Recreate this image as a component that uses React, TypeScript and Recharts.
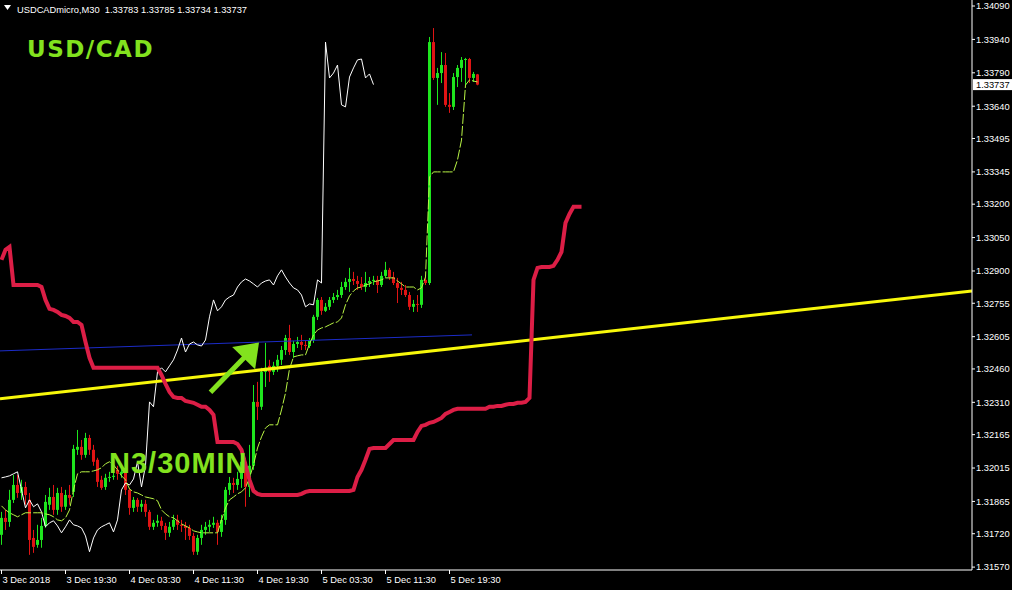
import React from "react";
import { ComposedChart, Bar, Line, XAxis, YAxis, ReferenceLine } from "recharts";

// prices are kept in points (1 point = 0.00001), M30 bars
const FONT = "'Liberation Sans', Arial, sans-serif";
const GREEN = "#1ee61e";
const RED = "#e01414";
const LIME = "#82e21e";

const barOpen = [
  131715, 131791, 131773, 131872, 131939, 131903, 131930, 131872, 131701, 131670,
  131692, 131755, 131850, 131885, 131827, 131903, 131841, 131894, 131908, 132097,
  132110, 132074, 132150, 132097, 132052, 131962, 131930, 131971, 131975, 132007,
  131989, 131998, 131917, 131836, 131872, 131841, 131854, 131818, 131751, 131769,
  131778, 131755, 131724, 131751, 131782, 131760, 131755, 131746, 131710, 131639,
  131701, 131737, 131751, 131760, 131769, 131728, 131782, 131917, 131948, 131939,
  131966, 132043, 131930, 132025, 132312, 132290, 132447, 132474, 132447, 132474,
  132501, 132545, 132599, 132536, 132572, 132581, 132568, 132563, 132590, 132694,
  132770, 132721, 132739, 132770, 132783, 132792, 132828, 132851, 132864, 132855,
  132842, 132828, 132846, 132855, 132860, 132837, 132878, 132905, 132873, 132846,
  132824, 132815, 132792, 132739, 132752, 132748, 132860, 132846, 133928, 133767,
  133789, 133825, 133646, 133637, 133771, 133812, 133848, 133852, 133767, 133783,
];
const barHigh = [
  131818, 131827, 131917, 131984, 131984, 131962, 131953, 131903, 131737, 131760,
  131791, 131894, 131926, 131939, 131926, 131930, 131917, 131939, 132119, 132186,
  132141, 132173, 132164, 132119, 132061, 131980, 131989, 131998, 132007, 132025,
  132016, 132007, 131926, 131885, 131881, 131872, 131872, 131827, 131782, 131805,
  131796, 131769, 131773, 131805, 131805, 131782, 131773, 131760, 131724, 131715,
  131760, 131773, 131782, 131796, 131782, 131805, 131930, 131975, 131971, 131998,
  132074, 132061, 132119, 132388, 132402, 132465, 132577, 132501, 132492, 132523,
  132563, 132613, 132658, 132586, 132604, 132613, 132586, 132599, 132703, 132779,
  132783, 132756, 132783, 132801, 132815, 132851, 132869, 132914, 132896, 132878,
  132873, 132896, 132873, 132878, 132878, 132896, 132941, 132914, 132896, 132869,
  132851, 132837, 132806, 132770, 132792, 132878, 132882, 133951, 133991, 133812,
  133883, 133879, 133699, 133789, 133825, 133861, 133857, 133857, 133794, 133785,
];
const barLow = [
  131670, 131737, 131751, 131858, 131881, 131872, 131850, 131625, 131634, 131657,
  131657, 131746, 131827, 131805, 131805, 131818, 131827, 131850, 131885, 132074,
  132052, 132061, 132074, 132025, 131930, 131917, 131917, 131953, 131962, 131962,
  131971, 131894, 131805, 131818, 131818, 131818, 131796, 131737, 131737, 131751,
  131737, 131692, 131706, 131737, 131737, 131728, 131692, 131692, 131625, 131625,
  131670, 131715, 131728, 131746, 131670, 131706, 131760, 131894, 131903, 131917,
  131926, 131841, 131885, 132007, 132231, 132276, 132379, 132402, 132433, 132447,
  132478, 132523, 132523, 132510, 132554, 132545, 132545, 132554, 132577, 132680,
  132703, 132716, 132725, 132756, 132770, 132779, 132815, 132806, 132837, 132815,
  132815, 132806, 132828, 132837, 132801, 132828, 132869, 132860, 132837, 132756,
  132792, 132783, 132725, 132716, 132716, 132734, 132837, 132837, 133758, 133646,
  133744, 133637, 133610, 133623, 133726, 133749, 133735, 133744, 133749, 133734,
];
const barClose = [
  131791, 131773, 131872, 131939, 131903, 131930, 131894, 131692, 131661, 131692,
  131755, 131863, 131885, 131827, 131903, 131841, 131894, 131881, 132101, 132110,
  132074, 132150, 132097, 132043, 131953, 131926, 131971, 131975, 131980, 131989,
  131998, 131917, 131836, 131872, 131841, 131854, 131818, 131751, 131769, 131778,
  131755, 131724, 131751, 131782, 131760, 131755, 131746, 131710, 131639, 131701,
  131737, 131751, 131760, 131769, 131728, 131782, 131917, 131948, 131939, 131966,
  132043, 131930, 132025, 132312, 132290, 132447, 132465, 132447, 132474, 132501,
  132545, 132599, 132536, 132572, 132581, 132568, 132563, 132590, 132694, 132770,
  132721, 132739, 132770, 132783, 132792, 132828, 132851, 132864, 132855, 132842,
  132828, 132846, 132855, 132860, 132837, 132878, 132905, 132873, 132846, 132824,
  132815, 132792, 132739, 132752, 132748, 132860, 132846, 133928, 133767, 133789,
  133825, 133646, 133637, 133771, 133812, 133848, 133852, 133767, 133785, 133737,
];

// white line, drawn 26 bars back
const lagging = [
  131971, 131975, 131980, 131989, 131998, 131917, 131836, 131872, 131841, 131854,
  131818, 131751, 131769, 131778, 131755, 131724, 131751, 131782, 131760, 131755,
  131746, 131710, 131639, 131701, 131737, 131751, 131760, 131769, 131728, 131782,
  131917, 131948, 131939, 131966, 132043, 131930, 132025, 132312, 132290, 132447,
  132465, 132447, 132474, 132501, 132545, 132599, 132536, 132572, 132581, 132568,
  132563, 132590, 132694, 132770, 132721, 132739, 132770, 132783, 132792, 132828,
  132851, 132864, 132855, 132842, 132828, 132846, 132855, 132860, 132837, 132878,
  132905, 132873, 132846, 132824, 132815, 132792, 132739, 132752, 132748, 132860,
  132846, 133928, 133767, 133789, 133825, 133646, 133637, 133771, 133812, 133848,
  133852, 133767, 133785, 133737,
];

// thin green line
const tenkan = [
  131845, 131827, 131814, 131805, 131796, 131805, 131814, 131814, 131814, 131814,
  131814, 131809, 131805, 131796, 131782, 131778, 131791, 131827, 131917, 131989,
  131998, 131998, 131998, 132002, 132007, 132016, 132034, 132043, 132029, 132007,
  131980, 131962, 131921, 131908, 131903, 131894, 131885, 131881, 131877, 131868,
  131827, 131809, 131796, 131791, 131778, 131764, 131755, 131746, 131733, 131728,
  131724, 131724, 131724, 131724, 131724, 131782, 131836, 131872, 131885, 131899,
  131908, 131926, 131971, 132029, 132105, 132155, 132195, 132209, 132209, 132209,
  132276, 132352, 132460, 132514, 132519, 132523, 132523, 132572, 132613, 132635,
  132644, 132649, 132658, 132667, 132671, 132689, 132748, 132788, 132810, 132824,
  132828, 132837, 132842, 132851, 132855, 132860, 132869, 132869, 132869, 132855,
  132842, 132828, 132828, 132828, 132815, 132824, 132873, 133322, 133345, 133345,
  133345, 133345, 133345, 133345, 133399, 133488, 133735, 133758, 133753, 133749,
];

// thick red span, drawn 26 bars ahead
const redSpan = [
  132950, 132995, 133008, 132837, 132837, 132837, 132837, 132837, 132837, 132837,
  132828, 132770, 132730, 132725, 132716, 132703, 132698, 132689, 132671, 132671,
  132658, 132581, 132510, 132465, 132465, 132465, 132465, 132465, 132465, 132465,
  132465, 132465, 132465, 132465, 132465, 132465, 132465, 132465, 132465, 132465,
  132433, 132393, 132357, 132334, 132330, 132330, 132316, 132312, 132308, 132299,
  132290, 132290, 132276, 132254, 132132, 132132, 132132, 132132, 132132, 132123,
  132097, 132029, 131962, 131912, 131899, 131894, 131894, 131894, 131894, 131894,
  131894, 131894, 131894, 131894, 131894, 131899, 131908, 131912, 131912, 131912,
  131912, 131912, 131912, 131912, 131912, 131912, 131912, 131912, 131917, 131975,
  132007, 132052, 132101, 132105, 132105, 132105, 132105, 132123, 132141, 132141,
  132141, 132141, 132141, 132141, 132177, 132204, 132209, 132218, 132222, 132231,
  132240, 132258, 132267, 132276, 132281, 132281, 132281, 132281, 132281, 132281,
  132281, 132281, 132290, 132290, 132294, 132294, 132299, 132303, 132303, 132308,
  132308, 132312, 132330, 132860, 132914, 132918, 132918, 132918, 132923, 132950,
  132986, 133116, 133156, 133188, 133188, 133188,
];

// drawn trend line (yellow) and slow average (blue): end points
const trendX = [-0.375, 242.625];
const trendY = [132326, 132810];
const blueX = [-0.375, 117.625];
const blueY = [132541, 132613];

// arrow annotation: tail and tip
const arrowX = [52.25, 64.375];
const arrowY = [132355, 132579];

const yTicks = [
  131570, 131720, 131865, 132015, 132165, 132310, 132460, 132605, 132755,
  132900, 133050, 133200, 133345, 133495, 133640, 133790, 133940, 134090,
];
const xTicks = [0, 16, 32, 48, 64, 80, 96, 112];
const xLabels = [
  "3 Dec 2018", "3 Dec 19:30", "4 Dec 03:30", "4 Dec 11:30",
  "4 Dec 19:30", "5 Dec 03:30", "5 Dec 11:30", "5 Dec 19:30",
];
const lastPrice = 133737;

const rows = redSpan.map((r, i) => ({
  i,
  hl: i < barClose.length ? [barLow[i], barHigh[i]] : null,
  o: barOpen[i],
  h: barHigh[i],
  l: barLow[i],
  c: barClose[i],
  red: r,
  tenkan: i < tenkan.length ? tenkan[i] : null,
  lag: i < lagging.length ? lagging[i] : null,
}));
const trendRows = trendX.map((x, k) => ({ i: x, v: trendY[k] }));
const blueRows = blueX.map((x, k) => ({ i: x, v: blueY[k] }));

const Candle = (p: any) => {
  const { x, y, width, height, payload } = p;
  if (payload == null || payload.o == null) return null;
  const { o, h, l, c } = payload;
  const color = c >= o ? GREEN : RED;
  const top = Math.min(y, y + height);
  const hgt = Math.abs(height);
  const range = h - l || 1;
  const bTop = top + ((h - Math.max(o, c)) / range) * hgt;
  const bBot = top + ((h - Math.min(o, c)) / range) * hgt;
  const cx = Math.round(x + width / 2 - 0.5) + 0.5;
  return (
    <g>
      <line x1={cx} x2={cx} y1={top} y2={top + hgt} stroke={color} strokeWidth={1} />
      <rect x={cx - 1.5} y={bTop} width={3} height={Math.max(1, bBot - bTop)} fill={color} />
    </g>
  );
};

const Arrow = (p: any) => {
  const { x1, y1, x2, y2 } = p;
  const len = Math.hypot(x2 - x1, y2 - y1);
  const ux = (x2 - x1) / len;
  const uy = (y2 - y1) / len;
  const bx = x2 - ux * 22;
  const by = y2 - uy * 22;
  const pts = `${x2},${y2} ${bx - uy * 16},${by + ux * 16} ${bx + uy * 16},${by - ux * 16}`;
  return (
    <g>
      <line x1={x1} y1={y1} x2={bx + ux * 4} y2={by + uy * 4} stroke={LIME} strokeWidth={5} />
      <polygon points={pts} fill={LIME} />
    </g>
  );
};

const PriceTag = (p: any) => {
  const { x, y, width } = p.viewBox;
  return (
    <g>
      <rect x={x + width + 1} y={y - 5.5} width={39} height={11} fill="#fff" />
      <text x={x + width + 4} y={y + 3.5} fontSize={9.3} fontFamily={FONT} fill="#000">
        {(lastPrice / 1e5).toFixed(5)}
      </text>
    </g>
  );
};

const DateTick = (p: any) => (
  <text x={p.x + 1} y={p.y + 7} fill="#fff" fontSize={9.3} fontFamily={FONT} textAnchor="start">
    {xLabels[xTicks.indexOf(p.payload.value)]}
  </text>
);

export default function App() {
  return (
    <div style={{ position: "fixed", left: 0, top: 0, width: 1012, height: 590, background: "#000" }}>
      <ComposedChart width={1012} height={590} data={rows} margin={{ top: 0, right: 0, bottom: 0, left: 0 }}>
        <XAxis
          dataKey="i"
          type="number"
          domain={[-0.375, 242.625]}
          allowDataOverflow
          ticks={xTicks}
          interval={0}
          height={20}
          tick={<DateTick />}
          tickSize={4}
          tickMargin={2}
          axisLine={{ stroke: "#fff" }}
          tickLine={{ stroke: "#fff" }}
        />
        <YAxis
          orientation="right"
          type="number"
          domain={[131557, 134117]}
          allowDataOverflow
          ticks={yTicks}
          interval={0}
          width={40}
          tickSize={3}
          tickMargin={1}
          tickFormatter={(v: number) => (v / 1e5).toFixed(5)}
          tick={{ fill: "#fff", fontSize: 9.3, fontFamily: FONT }}
          axisLine={{ stroke: "#fff" }}
          tickLine={{ stroke: "#fff" }}
        />
        <Bar dataKey="hl" barSize={3} shape={<Candle />} isAnimationActive={false} />
        <Line data={blueRows} dataKey="v" stroke="#1c2cc8" strokeWidth={1} dot={false} activeDot={false} isAnimationActive={false} />
        <Line dataKey="lag" stroke="#ffffff" strokeWidth={1} dot={false} activeDot={false} isAnimationActive={false} />
        <Line dataKey="tenkan" stroke="#b9f545" strokeWidth={1} strokeDasharray="10 2" dot={false} activeDot={false} isAnimationActive={false} />
        <Line data={trendRows} dataKey="v" stroke="#f8f80a" strokeWidth={3} dot={false} activeDot={false} isAnimationActive={false} />
        <Line dataKey="red" stroke="#dc1e46" strokeWidth={4} dot={false} activeDot={false} isAnimationActive={false} />
        <ReferenceLine
          segment={[{ x: arrowX[0], y: arrowY[0] }, { x: arrowX[1], y: arrowY[1] }]}
          shape={Arrow}
        />
        <ReferenceLine y={lastPrice} stroke="none" label={<PriceTag />} />
      </ComposedChart>
      <svg width={1012} height={590} style={{ position: "absolute", left: 0, top: 0, pointerEvents: "none" }}>
        <polygon points="4,5 11,5 7.5,10" fill="#fff" />
        <text x={17} y={13} fill="#fff" fontSize={9.3} fontFamily={FONT} style={{ whiteSpace: "pre" }}>
          USDCADmicro,M30  1.33783 1.33785 1.33734 1.33737
        </text>
        <text x={27} y={57} fill={LIME} fontSize={23} fontWeight="bold" letterSpacing={1.5} fontFamily="'DejaVu Sans', sans-serif">
          USD/CAD
        </text>
        <text x={109} y={473} fill={LIME} fontSize={29} fontWeight="bold" letterSpacing={1} fontFamily={FONT}>
          N3/30MIN
        </text>
      </svg>
    </div>
  );
}
